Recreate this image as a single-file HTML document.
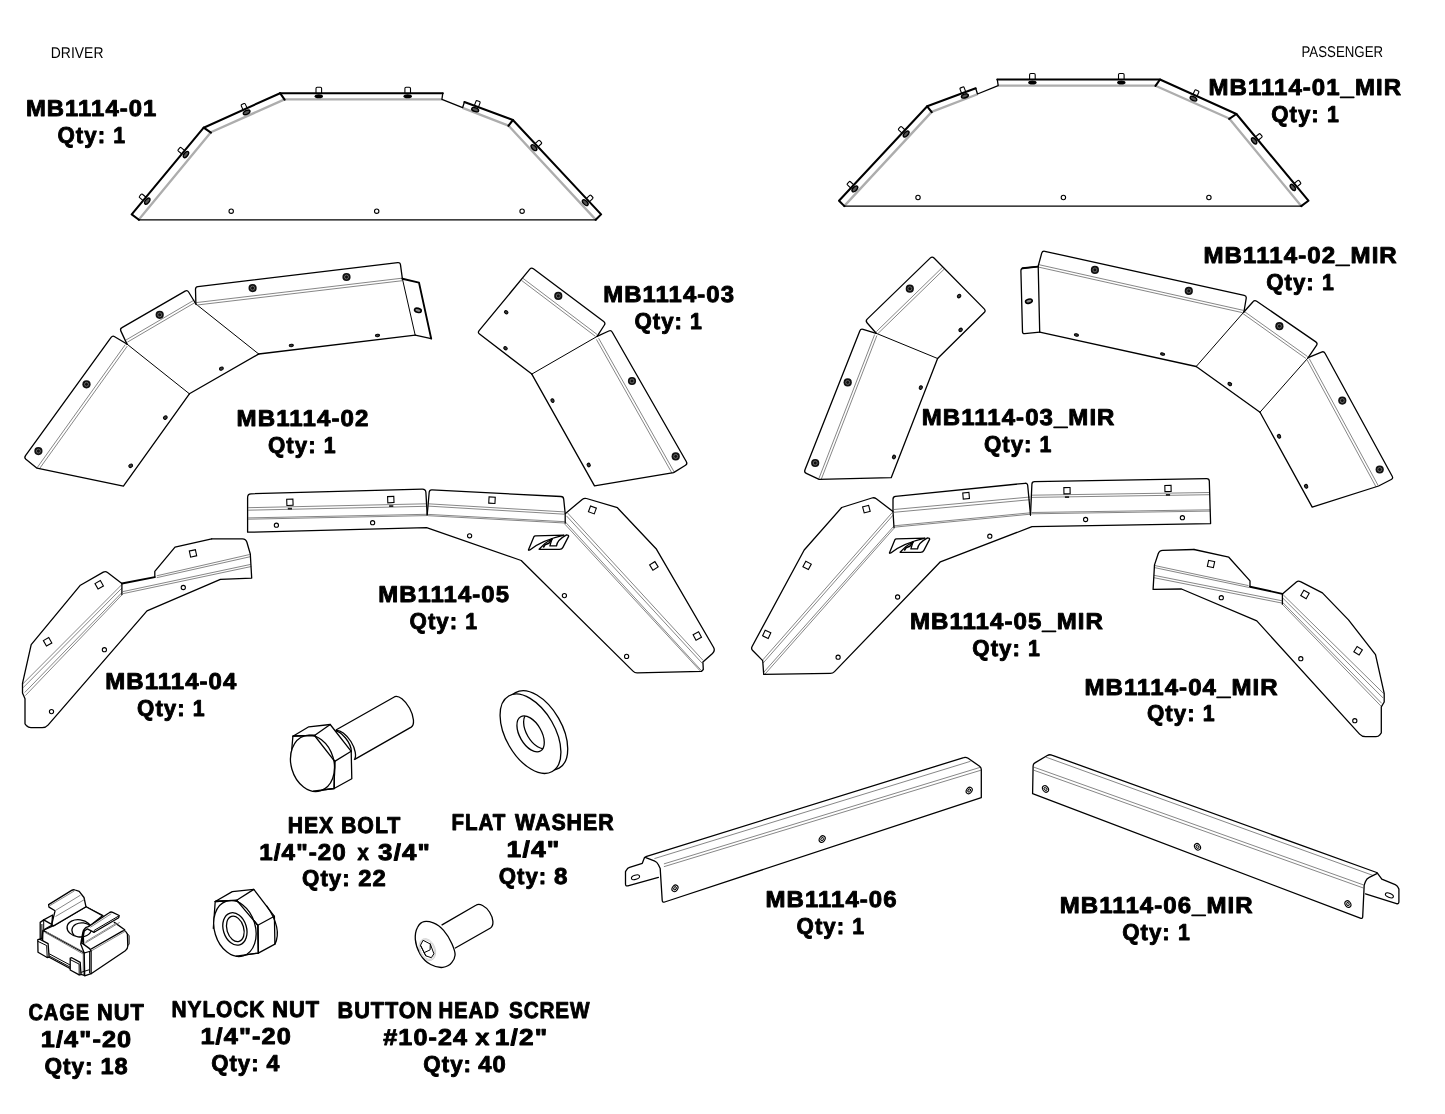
<!DOCTYPE html>
<html><head><meta charset="utf-8"><title>MB1114 parts</title>
<style>
html,body{margin:0;padding:0;background:#fff}
svg{display:block;will-change:transform}
text{font-family:"Liberation Sans",sans-serif;fill:#000;text-rendering:geometricPrecision}
.b{font-weight:bold;font-size:22.9px;stroke:#000;stroke-width:0.9px;stroke-linejoin:round;letter-spacing:1px}
.r{font-size:15.6px}
.k{fill:none;stroke:#000;stroke-width:1.3;stroke-linejoin:round;stroke-linecap:round}
.k1{stroke:#000;stroke-width:1.1;stroke-linejoin:round}
.kk{fill:none;stroke:#000;stroke-width:2.05;stroke-linejoin:round;stroke-linecap:round}
.k1n{fill:none;stroke:#000;stroke-width:1;stroke-linejoin:round;stroke-linecap:round}
.kt{fill:none;stroke:#000;stroke-width:1;stroke-linecap:round}
.g{fill:none;stroke:#808080;stroke-width:0.95}
.gl{fill:none;stroke:#bdbdbd;stroke-width:0.6}
.gw{fill:none;stroke:#adadad;stroke-width:2.3;stroke-linejoin:round}
.bf{fill:#111}
.bi{fill:none;stroke:#888;stroke-width:0.7}
.h{fill:#fff;stroke:#000;stroke-width:1.1}
.eh{fill:#3a3a3a;stroke:#000;stroke-width:1.0}
.fh{fill:#8a8a8a;stroke:#000;stroke-width:1.6}
.kh{fill:none;stroke:#000;stroke-width:1.9;stroke-linejoin:round;stroke-linecap:round}
.w{fill:#fff;stroke:#000;stroke-width:1.3;stroke-linejoin:round}
</style></head><body>
<svg width="1445" height="1114" viewBox="0 0 1445 1114">
<rect width="1445" height="1114" fill="#fff"/>
<g id="p01"><path class="gw" d="M138.9,219.6L210.9,132.2L284.6,99.4L441.9,99.4"/>
<path class="gw" d="M462.6,107.9L508.4,125.6L595.7,219.6"/>
<path class="k" d="M596.2,219.8L138.4,219.8"/>
<path class="k" d="M442.8,93.2L441.9,99.3L462.6,107.7L464.4,102"/>
<g transform="translate(318.8,93.4) rotate(0)"><path class="k1" d="M-2.8,0V-5.0Q-2.8,-6.2 -1.6,-6.2H1.6Q2.8,-6.2 2.8,-5.0V0" fill="#fff"/><ellipse cx="0" cy="2.8" rx="4.2" ry="2.0" fill="#000"/></g>
<g transform="translate(407.7,93.4) rotate(0)"><path class="k1" d="M-2.8,0V-5.0Q-2.8,-6.2 -1.6,-6.2H1.6Q2.8,-6.2 2.8,-5.0V0" fill="#fff"/><ellipse cx="0" cy="2.8" rx="4.2" ry="2.0" fill="#000"/></g>
<g transform="translate(245.2,109.2) rotate(-24.3)"><path class="k1" d="M-2.2,0V-4.6Q-2.2,-5.6 -1.2,-5.6H1.2Q2.2,-5.6 2.2,-4.6V0" fill="#fff"/><ellipse cx="0" cy="3.5" rx="3.6" ry="1.9" fill="#555" stroke="#000" stroke-width="1.4"/></g>
<g transform="translate(144.6,198.9) rotate(-50.3)"><path class="k1" d="M-2.2,0V-4.6Q-2.2,-5.6 -1.2,-5.6H1.2Q2.2,-5.6 2.2,-4.6V0" fill="#fff"/><ellipse cx="0" cy="3.5" rx="3.6" ry="1.9" fill="#555" stroke="#000" stroke-width="1.4"/></g>
<g transform="translate(183.3,152.3) rotate(-50.3)"><path class="k1" d="M-2.2,0V-4.6Q-2.2,-5.6 -1.2,-5.6H1.2Q2.2,-5.6 2.2,-4.6V0" fill="#fff"/><ellipse cx="0" cy="3.5" rx="3.6" ry="1.9" fill="#555" stroke="#000" stroke-width="1.4"/></g>
<g transform="translate(476.4,106.4) rotate(20.4)"><path class="k1" d="M-2.2,0V-4.6Q-2.2,-5.6 -1.2,-5.6H1.2Q2.2,-5.6 2.2,-4.6V0" fill="#fff"/><ellipse cx="0" cy="3.5" rx="3.6" ry="1.9" fill="#555" stroke="#000" stroke-width="1.4"/></g>
<g transform="translate(536.5,145.3) rotate(46.9)"><path class="k1" d="M-2.2,0V-4.6Q-2.2,-5.6 -1.2,-5.6H1.2Q2.2,-5.6 2.2,-4.6V0" fill="#fff"/><ellipse cx="0" cy="3.5" rx="3.6" ry="1.9" fill="#555" stroke="#000" stroke-width="1.4"/></g>
<g transform="translate(587.8,200.2) rotate(46.9)"><path class="k1" d="M-2.2,0V-4.6Q-2.2,-5.6 -1.2,-5.6H1.2Q2.2,-5.6 2.2,-4.6V0" fill="#fff"/><ellipse cx="0" cy="3.5" rx="3.6" ry="1.9" fill="#555" stroke="#000" stroke-width="1.4"/></g>
<path class="kk" d="M138.9,219.8L131.7,214.4L203.7,127.7L280.1,93.2L442.8,93.2"/>
<path class="kk" d="M464.4,102L512.9,120L601.1,214.4L595.7,219.8"/>
<path class="kk" d="M203.7,127.7L210.9,132.6M280.1,93.2L284.6,99.6M512.9,120L508.4,125.8"/>
<circle class="h" cx="231.2" cy="211.2" r="2.2"/>
<circle class="h" cx="376.7" cy="211.2" r="2.2"/>
<circle class="h" cx="522.1" cy="211.2" r="2.2"/></g>
<use href="#p01" transform="translate(1440.1,-13.7) scale(-1,1)"/>
<path class="g" d="M125.3,344.6L37.2,467.6"/><path class="g" d="M127.3,346.1L39.2,469.1"/>
<path class="k" d="M126.9,344L114.7,336.7Q112.6,335.4 111.1,337.4L25.5,455.7Q24,457.7 25.9,459.3L37,468.2L123.4,486.2L189.4,393.9"/>
<path class="kt" d="M126.9,344L189.4,393.8"/>
<circle class="bf" cx="86.5" cy="384.3" r="4.1"/><circle class="bi" cx="86.5" cy="384.3" r="2"/>
<circle class="bf" cx="38.4" cy="451.1" r="4.1"/><circle class="bi" cx="38.4" cy="451.1" r="2"/>
<ellipse class="eh" cx="165.3" cy="417.6" rx="2" ry="1.6" transform="rotate(-30 165.3 417.6)"/>
<ellipse class="eh" cx="130.7" cy="465.8" rx="2" ry="1.6" transform="rotate(-30 130.7 465.8)"/>
<path class="g" d="M127.3,342.2L195.6,302.2"/><path class="g" d="M126,340L194.3,300"/>
<path class="k" d="M127,344.1L120.9,331.1Q119.8,328.8 122,327.6L185.1,291.1Q187.3,289.9 188.6,292L195.9,304"/>
<path class="kt" d="M195.9,304L258.7,354"/>
<path class="k" d="M189.4,393.8L258.9,353.9"/>
<circle class="bf" cx="159.7" cy="314.8" r="4.1"/><circle class="bi" cx="159.7" cy="314.8" r="2"/>
<ellipse class="eh" cx="221.4" cy="368.7" rx="2" ry="1.5" transform="rotate(-20 221.4 368.7)"/>
<path class="g" d="M196.2,302.6L402,278.2"/><path class="g" d="M196.5,305.1L402.3,280.7"/>
<path class="k" d="M195.9,304L195.5,289.4Q195.4,286.9 197.9,286.6L397.7,262.7Q400.2,262.4 400.5,264.9L402.4,278.8"/>
<path class="k" d="M258.7,354L415.2,335.2"/>
<path class="kt" d="M402.4,278.8L415.2,335.2"/>
<path class="kh" d="M402.4,278.8L419,282.6L431.2,338.6"/>
<path class="k" d="M431.2,338.6L415.2,335.2"/>
<circle class="bf" cx="252.6" cy="288.1" r="4.1"/><circle class="bi" cx="252.6" cy="288.1" r="2"/>
<circle class="bf" cx="346.5" cy="277" r="4.1"/><circle class="bi" cx="346.5" cy="277" r="2"/>
<ellipse class="eh" cx="291.3" cy="345.5" rx="2.1" ry="1.2" transform="rotate(-5 291.3 345.5)"/>
<ellipse class="eh" cx="377.5" cy="335.5" rx="2.1" ry="1.2" transform="rotate(-5 377.5 335.5)"/>
<ellipse class="fh" cx="417.9" cy="310.3" rx="3.4" ry="2" transform="rotate(15 417.9 310.3)"/>
<path class="k" d="M1037.9,266.6L1023.3,268.1Q1020.8,268.4 1020.9,270.9L1022.5,331.9Q1022.6,333.9 1024.6,333.7L1039.7,332.1"/>
<path class="kh" d="M1037.9,266.6L1022.6,268.2"/>
<path class="g" d="M1038.6,264.6L1243.6,310.4"/><path class="g" d="M1038.1,267L1243.1,312.8"/>
<path class="k" d="M1039.7,332.1L1038.2,266L1041.7,253.2Q1042.4,250.8 1044.8,251.3L1244.2,295.3Q1246.6,295.8 1246.2,298.3L1243.9,312"/>
<path class="k" d="M1039.7,332.1L1196.2,366.5"/>
<path class="kt" d="M1243.9,312L1196.2,366.5"/>
<circle class="bf" cx="1094.9" cy="269.9" r="4.1"/><circle class="bi" cx="1094.9" cy="269.9" r="2"/>
<circle class="bf" cx="1188.8" cy="290.9" r="4.1"/><circle class="bi" cx="1188.8" cy="290.9" r="2"/>
<ellipse class="fh" cx="1028.9" cy="301.2" rx="3.4" ry="2" transform="rotate(-15 1028.9 301.2)"/>
<ellipse class="eh" cx="1076.4" cy="335" rx="2.1" ry="1.2" transform="rotate(10 1076.4 335)"/>
<ellipse class="eh" cx="1162.6" cy="354.1" rx="2.1" ry="1.2" transform="rotate(10 1162.6 354.1)"/>
<path class="g" d="M1244.5,311.6L1307.6,356.6"/><path class="g" d="M1243,313.6L1306.1,358.6"/>
<path class="k" d="M1243.9,312L1253,301.7Q1254.6,299.8 1256.7,301.2L1315.8,341.9Q1317.9,343.3 1316.5,345.4L1308.2,357.7"/>
<path class="kt" d="M1308.2,357.7L1260,412.2"/>
<path class="k" d="M1196.2,366.5L1260,412.2"/>
<circle class="bf" cx="1279.4" cy="326.2" r="4.1"/><circle class="bi" cx="1279.4" cy="326.2" r="2"/>
<ellipse class="eh" cx="1229.8" cy="384" rx="2" ry="1.5" transform="rotate(30 1229.8 384)"/>
<path class="g" d="M1309.2,358.6L1378.2,485.6"/><path class="g" d="M1307,359.8L1376,486.8"/>
<path class="k" d="M1308.2,357.7L1321.5,352.1Q1323.8,351.1 1325,353.3L1392.2,476.2Q1393.4,478.4 1391.2,479.5L1378.6,486L1312.2,507.1L1260,412.2"/>
<circle class="bf" cx="1342.3" cy="400.6" r="4.1"/><circle class="bi" cx="1342.3" cy="400.6" r="2"/>
<circle class="bf" cx="1379.7" cy="469.5" r="4.1"/><circle class="bi" cx="1379.7" cy="469.5" r="2"/>
<ellipse class="eh" cx="1279" cy="436.3" rx="2" ry="1.6" transform="rotate(60 1279 436.3)"/>
<ellipse class="eh" cx="1306.1" cy="486.3" rx="2" ry="1.6" transform="rotate(60 1306.1 486.3)"/>
<path class="g" d="M523,278.4L597,334.4"/><path class="g" d="M521.5,280.4L595.5,336.4"/>
<path class="k" d="M597.1,336.4L604.4,325Q605.7,322.9 603.7,321.4L533.4,268.8Q531.4,267.3 529.8,269.2L479.1,330.7Q477.5,332.6 479.5,334.1L531.8,374.1"/>
<path class="kt" d="M597.1,336.4L531.8,374.1"/>
<circle class="bf" cx="558.3" cy="295.9" r="4.1"/><circle class="bi" cx="558.3" cy="295.9" r="2"/>
<ellipse class="eh" cx="506.2" cy="312.3" rx="1.9" ry="1.5" transform="rotate(40 506.2 312.3)"/>
<ellipse class="eh" cx="505.5" cy="348.3" rx="1.9" ry="1.5" transform="rotate(40 505.5 348.3)"/>
<path class="g" d="M598.6,338.2L674.2,472"/><path class="g" d="M596.4,339.4L672,473.2"/>
<path class="k" d="M597.1,336.4L608.8,331Q611.1,330 612.3,332.2L686.4,461.8Q687.6,464 685.5,465.3L673.6,472.6L594.5,485.9L531.8,374.1"/>
<circle class="bf" cx="632" cy="381" r="4.1"/><circle class="bi" cx="632" cy="381" r="2"/>
<circle class="bf" cx="675.7" cy="456.4" r="4.1"/><circle class="bi" cx="675.7" cy="456.4" r="2"/>
<ellipse class="eh" cx="552.5" cy="400.6" rx="1.9" ry="1.5" transform="rotate(60 552.5 400.6)"/>
<ellipse class="eh" cx="588.7" cy="465" rx="1.9" ry="1.5" transform="rotate(60 588.7 465)"/>
<path class="g" d="M942.6,267.2L876.4,331.6"/><path class="g" d="M944.3,269L878.1,333.4"/>
<path class="k" d="M876.2,333.3L867,322.7Q865.4,320.8 867.2,319.1L930.4,257.9Q932.2,256.2 934,258L984.2,308.9Q986,310.7 984.2,312.5L937.6,358.5"/>
<path class="kt" d="M876.2,333.3L937.6,358.5"/>
<circle class="bf" cx="909.8" cy="288.7" r="4.1"/><circle class="bi" cx="909.8" cy="288.7" r="2"/>
<ellipse class="eh" cx="959.1" cy="296.1" rx="1.9" ry="1.5" transform="rotate(-40 959.1 296.1)"/>
<ellipse class="eh" cx="960.6" cy="329.9" rx="1.9" ry="1.5" transform="rotate(-40 960.6 329.9)"/>
<path class="g" d="M874.6,334.6L818.8,478.8"/><path class="g" d="M876.9,335.5L821.1,479.7"/>
<path class="k" d="M876.2,333.3L863.1,329.3Q860.7,328.6 859.8,330.9L804.9,470Q804,472.3 806.3,473.4L819.1,479.4L891.2,477.7L937.6,358.5"/>
<circle class="bf" cx="847.7" cy="382.4" r="4.1"/><circle class="bi" cx="847.7" cy="382.4" r="2"/>
<circle class="bf" cx="815.2" cy="463" r="4.1"/><circle class="bi" cx="815.2" cy="463" r="2"/>
<ellipse class="eh" cx="920.8" cy="387.6" rx="1.9" ry="1.5" transform="rotate(-60 920.8 387.6)"/>
<ellipse class="eh" cx="894" cy="457" rx="1.9" ry="1.5" transform="rotate(-60 894 457)"/>
<defs><g id="logo" fill="none" stroke="#000" stroke-width="1.3" stroke-linejoin="round"><path d="M528.5,549.8L534,536.6Q534.4,535.8 535.4,535.8L564,535.2C552,538 538,543.5 529.8,550Q528.2,550.6 528.5,549.8Z"/><path d="M539.1,549.3L559.5,549.3Q562,549.3 562.9,547.4L568.6,536.4Q568.9,534.9 566.5,534.9C560,538.5 556.8,542.5 556.5,545.9L549.9,545.9L552,538.8C547,541.5 542,546 539.1,549.3Z"/><path d="M552.5,538.5L548.8,543.2L545,544.8L543.3,547.5" stroke-width="1.6"/></g></defs>
<path class="g" d="M248.2,507.7L426.6,503.8"/><path class="g" d="M248.2,510.2L426.6,506.3"/><path class="g" d="M248.2,517.9L426.8,514.3"/><path class="g" d="M248.2,519.2L426.8,515.6"/><path class="g" d="M428.2,503.8L564.4,511.9"/><path class="g" d="M428.2,506.1L564.4,514.2"/><path class="g" d="M428,514.4L564.8,521.7"/><path class="g" d="M428,515.7L564.8,523"/><path class="g" d="M567.6,513L702.9,660.2"/><path class="g" d="M566.5,515.9L702.3,663.4"/><path class="g" d="M565.4,522L701.5,670.7"/><path class="g" d="M564.8,524.1L700.2,670.9"/>
<path class="k" d="M427.2,514.9L425.9,492.5Q425.7,489 422.2,489.1L251.1,493.8Q247.6,493.9 247.6,497.4L247.6,532.2L426.6,527.7L521.2,560.5L633,671.1Q634.8,672.9 637.3,672.8L701.6,671.3L703.3,669.5L702.9,661.9L712.5,653.4Q715.5,650.7 713.5,647.2L656.1,548.7L617.4,507.7L586.5,498.5Q584.1,497.8 582.2,499.4L565.2,513.7L565.2,523.2"/>
<path class="k" d="M427.2,514.9L429.2,492.3Q429.4,489.8 431.9,489.9L560.9,496.5Q563.4,496.6 563.7,499.1L565.2,513.7"/>
<rect class="h" x="286.8" y="499.2" width="6.2" height="6.2" transform="rotate(-2 289.9 502.3)"/>
<rect class="h" x="387.7" y="496.5" width="6.2" height="6.2" transform="rotate(-2 390.8 499.6)"/>
<rect class="h" x="488.9" y="497.1" width="6.2" height="6.2" transform="rotate(3 492 500.2)"/>
<rect class="h" x="589.3" y="506.8" width="6.2" height="6.2" transform="rotate(20 592.4 509.9)"/>
<rect class="h" x="650.8" y="562.8" width="6.2" height="6.2" transform="rotate(-32 653.9 565.9)"/>
<rect class="h" x="694.2" y="632.9" width="6.2" height="6.2" transform="rotate(-28 697.3 636)"/>
<rect fill="#222" x="287.8" y="507.8" width="4.2" height="1.8"/>
<rect fill="#222" x="389.1" y="505.2" width="4.2" height="1.8"/>
<circle class="h" cx="276.4" cy="525.2" r="2.1"/>
<circle class="h" cx="372.6" cy="522.7" r="2.1"/>
<circle class="h" cx="469.6" cy="535.8" r="2.1"/>
<circle class="h" cx="564.4" cy="595.6" r="2.1"/>
<circle class="h" cx="626.6" cy="656.4" r="2.1"/>
<use href="#logo"/>
<path class="g" d="M892.4,512.4L762.9,659.8"/><path class="g" d="M893,515.2L763.2,663"/><path class="g" d="M893.8,526.2L763.8,672.2"/><path class="g" d="M894,528.3L764.9,674.2"/><path class="g" d="M894,509.5L1030.2,497"/><path class="g" d="M894,512.3L1030.2,499.7"/><path class="g" d="M894,525.8L1030.4,512.8"/><path class="g" d="M894,527.2L1030.4,514.2"/><path class="g" d="M1032,495.2L1210,492.5"/><path class="g" d="M1032,497.4L1210,494.7"/><path class="g" d="M1031.6,512.5L1210.2,509.8"/><path class="g" d="M1031.6,513.8L1210.2,511.1"/>
<path class="k" d="M894,527.7L893,511.5L876.3,498.8Q874.3,497.3 871.9,498L841.7,507.5L804.2,550L752.1,646.5Q750.9,648.7 752.7,650.5L762.7,660.6L763.7,674.4L830.3,673.4Q832.8,673.4 834.5,671.6L940.4,561.8L1032,526.7L1210.6,523.6L1209.3,481.1Q1209.2,478.6 1206.7,478.6L1034.5,481.7Q1032,481.7 1031.9,484.2L1030.5,515"/>
<path class="k" d="M893,511.5L893,499.2Q893,496.7 895.5,496.4L1025,483.3Q1027.5,483 1027.7,485.5L1030.5,515"/>
<rect class="h" x="863.3" y="506" width="6.2" height="6.2" transform="rotate(-15 866.4 509.1)"/>
<rect class="h" x="804" y="562.3" width="6.2" height="6.2" transform="rotate(28 807.1 565.4)"/>
<rect class="h" x="763.6" y="631.2" width="6.2" height="6.2" transform="rotate(25 766.7 634.3)"/>
<rect class="h" x="963" y="492.6" width="6.2" height="6.2" transform="rotate(-5 966.1 495.7)"/>
<rect class="h" x="1063.9" y="487.6" width="6.2" height="6.2" transform="rotate(-1 1067 490.7)"/>
<rect class="h" x="1164.9" y="485.4" width="6.2" height="6.2" transform="rotate(-1 1168 488.5)"/>
<rect fill="#222" x="1064.9" y="496.2" width="4.2" height="1.8"/>
<rect fill="#222" x="1165.9" y="494" width="4.2" height="1.8"/>
<circle class="h" cx="1085.6" cy="519.5" r="2.1"/>
<circle class="h" cx="1182.4" cy="517.7" r="2.1"/>
<circle class="h" cx="989.8" cy="536.2" r="2.1"/>
<circle class="h" cx="897.6" cy="597" r="2.1"/>
<circle class="h" cx="838.1" cy="657.2" r="2.1"/>
<use href="#logo" transform="translate(361,3)"/>
<path class="g" d="M156.7,575.8L249.7,554.5"/><path class="g" d="M156.7,577.7L250.3,556.7"/><path class="g" d="M122.9,591.6L250.7,564.4"/><path class="g" d="M122.9,593.7L251.3,566.5"/><path class="g" d="M121.6,584.8L22.7,684"/><path class="g" d="M121.9,588.1L23.1,687.7"/><path class="g" d="M122.1,592.4L24.7,692.5"/><path class="g" d="M122.3,594.5L25.4,695.6"/>
<path class="k" d="M211.7,538.9L242.4,538.9Q245.9,538.9 246.9,542.3L250.3,554L251.7,578.1L220.4,579.4L147,610.9L48,725.1Q45.7,727.7 42.2,727.7L30.9,727.7Q28.3,727.7 26.6,725.8L25,723.8L25,698.7L22.5,692.9L22.5,683.3L31.2,644.7L80.4,585.2L103.3,572.1Q105.5,570.9 107.5,572.4L121.9,583.5L121.9,594.5"/>
<path class="k" d="M211.7,538.9L175,547.2L154.8,571.3L154.8,577.1"/>
<path class="kh" d="M121.9,583.5L154.8,577.1"/>
<rect class="h" x="96.1" y="581.7" width="6.2" height="6.2" transform="rotate(-30 99.2 584.8)"/>
<rect class="h" x="44.5" y="638.7" width="6.2" height="6.2" transform="rotate(-30 47.6 641.8)"/>
<rect class="h" x="189.9" y="550.3" width="6.2" height="6.2" transform="rotate(-12 193 553.4)"/>
<circle class="h" cx="183.3" cy="587.5" r="2.1"/>
<circle class="h" cx="104.4" cy="649.7" r="2.1"/>
<circle class="h" cx="51.5" cy="711.6" r="2.1"/>
<path class="g" d="M1154.7,565.5L1248.5,585.6"/><path class="g" d="M1154.5,567.6L1249.2,587.5"/><path class="g" d="M1153.9,575.3L1282.1,600.8"/><path class="g" d="M1153.9,577.7L1282.1,603.1"/><path class="g" d="M1283.2,594.8L1383.8,693.7"/><path class="g" d="M1283,598.3L1383,697.9"/><path class="g" d="M1282.8,602.6L1381.7,703.3"/><path class="g" d="M1282.6,604.5L1380.9,706"/>
<path class="k" d="M1194,549.5L1162.8,550.3Q1159.3,550.4 1158.2,553.7L1154.5,564.9L1153.1,589.4L1181.5,589L1256.8,620.9L1359.6,734.1Q1362,736.7 1365.5,736.7L1376,736.7Q1378.4,736.7 1379.8,734.8L1381.3,732.8L1381.3,706.8L1384.2,702L1384.2,693.3L1375.5,654.7L1348.5,619.9L1322.4,592.9L1300.5,581.6Q1298.3,580.4 1296.4,582L1282.4,593.9L1282.4,604.2"/>
<path class="k" d="M1194,549.5L1228.8,557.2L1250,580.9L1250,586.7"/>
<path class="kh" d="M1282.4,593.9L1250,586.7"/>
<rect class="h" x="1207.9" y="560.9" width="6.2" height="6.2" transform="rotate(12 1211 564)"/>
<rect class="h" x="1301.9" y="591.3" width="6.2" height="6.2" transform="rotate(30 1305 594.4)"/>
<rect class="h" x="1355" y="647.7" width="6.2" height="6.2" transform="rotate(32 1358.1 650.8)"/>
<circle class="h" cx="1221.3" cy="597.7" r="2.1"/>
<circle class="h" cx="1300.8" cy="658.7" r="2.1"/>
<circle class="h" cx="1354.8" cy="720.7" r="2.1"/>
<path class="g" d="M654.4,858.6L970.5,761.3"/><path class="g" d="M663.9,863.9L981,767.1"/><path class="g" d="M663.9,866.7L981,770.2"/>
<path class="k" d="M644.5,857.5L642.3,863.3L629.6,867.4Q627.6,868.1 626.6,869.9L625.5,871.7L625.5,884Q625.5,886.5 627.9,885.8L658.4,877.3"/>
<ellipse class="h" cx="635.5" cy="877.3" rx="4.2" ry="2.1" transform="rotate(-18 635.5 877.3)"/>
<path class="k" d="M981.3,797.6L664.7,902Q662.3,902.8 662.2,900.3L660.2,868.6L658.4,864.7Q657.1,862 654.3,860.9L645.8,857.6Q644.5,857 645.9,856.6L963.7,757.6Q966,756.8 968.1,758.3L979.6,766.2Q981.3,767.4 981.3,769.4L981.3,797.6"/>
<ellipse cx="675" cy="888.3" rx="3.5" ry="2.7" fill="#fff" stroke="#000" stroke-width="1.1" transform="rotate(-55 675 888.3)"/><ellipse cx="675" cy="888.3" rx="1.8" ry="1.3" fill="#bbb" stroke="#000" stroke-width="0.9" transform="rotate(-55 675 888.3)"/>
<ellipse cx="822.2" cy="839.1" rx="3.5" ry="2.7" fill="#fff" stroke="#000" stroke-width="1.1" transform="rotate(-55 822.2 839.1)"/><ellipse cx="822.2" cy="839.1" rx="1.8" ry="1.3" fill="#bbb" stroke="#000" stroke-width="0.9" transform="rotate(-55 822.2 839.1)"/>
<ellipse cx="969.2" cy="790.5" rx="3.5" ry="2.7" fill="#fff" stroke="#000" stroke-width="1.1" transform="rotate(-55 969.2 790.5)"/><ellipse cx="969.2" cy="790.5" rx="1.8" ry="1.3" fill="#bbb" stroke="#000" stroke-width="0.9" transform="rotate(-55 969.2 790.5)"/>
<path class="g" d="M1045.8,757.1L1372.9,875.4"/><path class="g" d="M1033.7,767.1L1363.4,884.9"/><path class="g" d="M1033.7,770.2L1363.4,888"/>
<path class="k" d="M1377.6,873.3L1381.8,879.1L1395.2,884.6Q1397.1,885.4 1398,887.3L1398.9,889.1L1398.9,901.8Q1398.9,904.3 1396.5,903.6L1365.5,893.8"/>
<ellipse class="h" cx="1389.4" cy="895.4" rx="4.2" ry="2.1" transform="rotate(22 1389.4 895.4)"/>
<path class="k" d="M1032.6,793.6L1360.3,918.2Q1362.6,919.1 1362.7,916.6L1364.2,884.9L1365.5,881.4Q1366.6,878.6 1369.3,877.3L1376.8,873.7Q1378.1,873.1 1376.7,872.5L1051.8,755.1Q1049.5,754.2 1047.3,755.5L1034.9,762.9Q1033.1,763.9 1033.1,765.9L1032.6,793.6"/>
<ellipse cx="1045.5" cy="788.9" rx="3.5" ry="2.7" fill="#fff" stroke="#000" stroke-width="1.1" transform="rotate(55 1045.5 788.9)"/><ellipse cx="1045.5" cy="788.9" rx="1.8" ry="1.3" fill="#bbb" stroke="#000" stroke-width="0.9" transform="rotate(55 1045.5 788.9)"/>
<ellipse cx="1197.5" cy="846.8" rx="3.5" ry="2.7" fill="#fff" stroke="#000" stroke-width="1.1" transform="rotate(55 1197.5 846.8)"/><ellipse cx="1197.5" cy="846.8" rx="1.8" ry="1.3" fill="#bbb" stroke="#000" stroke-width="0.9" transform="rotate(55 1197.5 846.8)"/>
<ellipse cx="1347.9" cy="904.1" rx="3.5" ry="2.7" fill="#fff" stroke="#000" stroke-width="1.1" transform="rotate(55 1347.9 904.1)"/><ellipse cx="1347.9" cy="904.1" rx="1.8" ry="1.3" fill="#bbb" stroke="#000" stroke-width="0.9" transform="rotate(55 1347.9 904.1)"/>
<g><path class="w" d="M335.9,730L394.7,696.7A17.3 7.8 61.5 0 1 411.2,727.1L354.7,759.4"/><path class="w" d="M335.9,730.4 A17.6 8.4 58 0 1 354.2,759.8"/><path class="k" d="M334.5,730.8 A15 7 55 0 1 351.4,751.8"/><path class="w" d="M292.9,736.2L308.8,726.8L330.2,724.5L351.2,751.3L351.8,778.8L334.1,788.5L334.7,761.4L314.5,735.5Z"/><path class="k" d="M314.5,735.5L330.2,724.5"/><path class="k" d="M334.7,761.4L351.2,751.3"/><path class="w" d="M290.7,761.2L292.9,736.2L314.5,735.5L334.7,761.4L334.1,788.5L313.3,791.2"/><ellipse class="w" cx="312.5" cy="763.3" rx="21.4" ry="28.6" transform="rotate(-16 312.5 763.3)"/><path class="k" d="M292.9,736.2L314.5,735.5L334.7,761.4L334.1,788.5L313.3,791.2"/></g>
<g><ellipse class="w" cx="537.3" cy="730.4" rx="43.6" ry="24.5" transform="rotate(60 537.3 730.4)"/><ellipse class="w" cx="530.5" cy="733.7" rx="43.6" ry="24.5" transform="rotate(60 530.5 733.7)"/><clipPath id="wh"><ellipse cx="530.6" cy="733.9" rx="19.8" ry="10.9" transform="rotate(60 530.6 733.9)"/></clipPath><ellipse class="w" cx="530.6" cy="733.9" rx="19.8" ry="10.9" transform="rotate(60 530.6 733.9)"/><g clip-path="url(#wh)"><ellipse class="k" cx="537.3" cy="730.8" rx="19.8" ry="10.9" transform="rotate(60 537.3 730.8)"/></g></g>
<g><path fill="#fff" d="M42.7,930.3L84.2,953L124.7,929.8L127.8,949.1L91.1,973.7L83.2,976.7L39.7,953L40.2,922.4L52.6,915L86.2,906.6L102.9,915.5Z"/><path class="k" d="M86,906.8L102.9,915.7"/><path class="k" d="M114.3,922.4L124.7,929.8"/><path class="w" d="M42.9,930.3L53.6,925.6L86,906.8L102.5,915.7L89.1,926.5L85.2,928.8L83.2,934.2L84.2,953Z"/><ellipse class="w" cx="79.2" cy="928.3" rx="12.2" ry="8.6" transform="rotate(8 79.2 928.3)"/><clipPath id="ch"><ellipse cx="79.2" cy="928.3" rx="12.2" ry="8.6" transform="rotate(8 79.2 928.3)"/></clipPath><g clip-path="url(#ch)"><ellipse class="k" cx="82.4" cy="930.9" rx="10.5" ry="8" transform="rotate(8 82.4 930.9)"/></g><path class="w" d="M42.9,930.5L84.2,953L84.2,975.5L80.7,974.2L49.6,957.5L42.2,953.5Z"/><path class="g" d="M44.7,932.3L83.2,954"/><path class="g" d="M45.9,931.5L84.2,952.2"/><path class="g" d="M83.2,954L83.2,973.7"/><path class="w" d="M40.2,922.4L43.7,919.9L52.6,924.9L42.9,930.3L41.9,938.2L40.2,939.2Z"/><path class="k1n" d="M41.9,924.4L41.9,938.2"/><path class="k1n" d="M43.7,919.9L43.7,928.8"/><path class="w" d="M84.2,953L122.4,931.1Q124.7,929.8 126.1,932L127.4,934.2L127.8,946.1Q127.8,949.1 125.3,950.7L91.1,973.7L84.7,975.9Z"/><path class="k" d="M91.1,951L91.1,973.7"/><path class="k1n" d="M89.6,948.6L89.6,972.8"/><path class="g" d="M85.2,943.1L119.7,922.4"/><path class="g" d="M85.7,941.7L116.3,923.2"/><path class="g" d="M91.1,951L125.2,931.3"/><path class="k1n" d="M127.6,934.2L129.1,935.4L129.1,944.1L127.8,945.6"/><path class="w" d="M48.6,904.6L71.6,890.4Q73.3,889.3 75.2,890L79.2,891.3L84,897.5L86,906.8L53.6,925.9L51.8,924.4L55.1,910.7L49,907.1Z"/><path class="g" d="M55.1,910.7L80.4,895.2"/><path class="g" d="M49.6,905.8L74.5,890.8"/><path class="g" d="M55.5,916.5L84.2,899.7"/><path class="k" d="M43.7,919.9L52.6,915L51.8,924.4"/><path class="w" d="M89.1,926.3L109.2,912.7Q110.8,911.5 112.7,912.4L119.2,915.5L118.7,917.7L94.1,932.3L87.3,928.8L84.2,931.3L82,943.1L89.6,948.6L91.1,951L84.2,953L80.7,944.1L82.8,932.4Q83.2,930.3 84.7,928.8L86.2,927.3Z"/><path class="g" d="M90.3,927.3L111.3,913.7"/><path class="k1n" d="M94.1,932.3L94.3,930.3L118.7,916"/><path class="w" d="M37.8,939.7L39.7,939.2L48.1,943.6L49.1,957L47.2,957.5L38,952.2Z"/><path class="k1n" d="M38,941.4L46.7,945.6L47.2,957.5"/><path class="w" d="M70.2,958.1L71.8,957.7L80.2,962.4L81,974.7L79.2,974.9L70.2,970Z"/><path class="k1n" d="M70.4,959.7L79.1,964.1L79.2,974.9"/><path class="k1n" d="M49.6,954L69.9,964.9"/><path class="k1n" d="M49.6,956.2L69.9,967"/><path class="k1n" d="M81.2,972.3L89.1,969.8"/></g>
<g><path class="w" d="M215.2,901.5L232.3,891.6L253.8,889.4L274.4,916.3L274.9,944.1L258.3,953.1L257.8,925.3L236.7,900.3Z"/><path class="k" d="M236.7,900.3L253.8,889.4"/><path class="k" d="M257.8,925.3L274.4,916.3"/><path class="k" d="M266.8,906 Q282.5,928.9 274.9,944.1"/><path class="w" d="M213.3,928.9L215.2,901.5L236.7,900.3L257.8,925.3L258.3,953.1L236.3,956.2"/><ellipse class="w" cx="234.9" cy="928.5" rx="20.4" ry="28.6" transform="rotate(-17 234.9 928.5)"/><path class="k" d="M215.2,901.5L236.7,900.3L257.8,925.3L258.3,953.1L236.3,956.2"/><ellipse class="k" cx="234.9" cy="928.9" rx="11.6" ry="16.6" transform="rotate(-17 234.9 928.9)"/><ellipse class="k" cx="235.3" cy="928.9" rx="8.4" ry="13" transform="rotate(-17 235.3 928.9)"/></g>
<g><path class="w" d="M441.6,925.1L475.9,905.3A12.8 7.4 58 0 1 490.5,928L454.9,948.2"/><path class="w" d="M424,921.6Q420.2,922.3 417.6,927.2Q414.9,932 415.3,939.3Q415.8,946.6 420,953.8Q424.2,961.1 430.7,964.5Q437.2,968 442.8,967.4Q448.5,966.7 451.7,962.7Q454.9,958.7 455.1,955Q455.3,951.4 451.9,943.7Q448.5,936 443.6,930.4Q438.8,924.7 433.3,922.8Q427.9,920.9 424,921.6Z"/><ellipse class="gl" cx="427.3" cy="949.6" rx="7.8" ry="11.4" transform="rotate(-22 427.3 949.6)"/><ellipse class="gl" cx="427.3" cy="949.6" rx="6.8" ry="10.2" transform="rotate(-22 427.3 949.6)"/><path class="k1n" d="M423.4,940.5L430.3,944L433.9,953.8L431.3,957.7L425.7,955.8L420.6,945.7Z"/><path class="k1n" d="M420.8,945.7L424.2,952.6L425.9,955.8"/><path class="k1n" d="M424.2,952.6L430.1,949.9L430.3,944"/></g>
<text class="r" transform="translate(50.8,58) scale(0.8939,1)">DRIVER</text>
<text class="r" transform="translate(1301.5,57) scale(0.8505,1)">PASSENGER</text>
<text class="b" transform="translate(25.9,116) scale(1.0427,1)">MB1114-01</text>
<text class="b" transform="translate(57.5,143) scale(0.9750,1)">Qty:</text>
<text class="b" transform="translate(113.2,143) scale(0.9315,1)">1</text>
<text class="b" transform="translate(1208.5,95) scale(1.0478,1)">MB1114-01_MIR</text>
<text class="b" transform="translate(1271.2,122) scale(0.9750,1)">Qty:</text>
<text class="b" transform="translate(1326.9,122) scale(0.9315,1)">1</text>
<text class="b" transform="translate(1203.5,263) scale(1.0516,1)">MB1114-02_MIR</text>
<text class="b" transform="translate(1266.2,290) scale(0.9750,1)">Qty:</text>
<text class="b" transform="translate(1321.9,290) scale(0.9315,1)">1</text>
<text class="b" transform="translate(603.3,302) scale(1.0443,1)">MB1114-03</text>
<text class="b" transform="translate(634.4,329) scale(0.9750,1)">Qty:</text>
<text class="b" transform="translate(690.1,329) scale(0.9315,1)">1</text>
<text class="b" transform="translate(236.6,426) scale(1.0532,1)">MB1114-02</text>
<text class="b" transform="translate(268,453) scale(0.9750,1)">Qty:</text>
<text class="b" transform="translate(323.7,453) scale(0.9315,1)">1</text>
<text class="b" transform="translate(921.7,425) scale(1.0488,1)">MB1114-03_MIR</text>
<text class="b" transform="translate(983.9,452) scale(0.9750,1)">Qty:</text>
<text class="b" transform="translate(1039.6,452) scale(0.9315,1)">1</text>
<text class="b" transform="translate(378.3,602) scale(1.0444,1)">MB1114-05</text>
<text class="b" transform="translate(409.6,629) scale(0.9750,1)">Qty:</text>
<text class="b" transform="translate(465.3,629) scale(0.9315,1)">1</text>
<text class="b" transform="translate(909.9,629) scale(1.0505,1)">MB1114-05_MIR</text>
<text class="b" transform="translate(972.3,656) scale(0.9750,1)">Qty:</text>
<text class="b" transform="translate(1028,656) scale(0.9315,1)">1</text>
<text class="b" transform="translate(105.3,689) scale(1.0474,1)">MB1114-04</text>
<text class="b" transform="translate(137.1,716) scale(0.9750,1)">Qty:</text>
<text class="b" transform="translate(192.8,716) scale(0.9315,1)">1</text>
<text class="b" transform="translate(1084.5,695) scale(1.0510,1)">MB1114-04_MIR</text>
<text class="b" transform="translate(1147,721) scale(0.9750,1)">Qty:</text>
<text class="b" transform="translate(1202.7,721) scale(0.9315,1)">1</text>
<text class="b" transform="translate(287.8,833) scale(0.9257,1)">HEX</text>
<text class="b" transform="translate(341,833) scale(0.9331,1)">BOLT</text>
<text class="b" transform="translate(259.3,860) scale(1.0580,1)">1/4&quot;-20</text>
<text class="b" transform="translate(357.5,860) scale(0.8849,1)">x</text>
<text class="b" transform="translate(378.1,860) scale(1.1347,1)">3/4&quot;</text>
<text class="b" transform="translate(302.1,886) scale(0.9750,1)">Qty:</text>
<text class="b" transform="translate(358.2,886) scale(1.0392,1)">22</text>
<text class="b" transform="translate(451.5,830) scale(0.8987,1)">FLAT</text>
<text class="b" transform="translate(515.1,830) scale(0.9337,1)">WASHER</text>
<text class="b" transform="translate(506.6,857) scale(1.1539,1)">1/4&quot;</text>
<text class="b" transform="translate(498.7,884) scale(0.9729,1)">Qty:</text>
<text class="b" transform="translate(554.1,884) scale(1.0543,1)">8</text>
<text class="b" transform="translate(765.5,907) scale(1.0475,1)">MB1114-06</text>
<text class="b" transform="translate(796.6,934) scale(0.9750,1)">Qty:</text>
<text class="b" transform="translate(852.3,934) scale(0.9315,1)">1</text>
<text class="b" transform="translate(1059.8,913) scale(1.0494,1)">MB1114-06_MIR</text>
<text class="b" transform="translate(1122.2,940) scale(0.9750,1)">Qty:</text>
<text class="b" transform="translate(1177.9,940) scale(0.9315,1)">1</text>
<text class="b" transform="translate(28.5,1020) scale(0.8765,1)">CAGE</text>
<text class="b" transform="translate(97.1,1020) scale(0.9519,1)">NUT</text>
<text class="b" transform="translate(40.8,1047) scale(1.1053,1)">1/4&quot;-20</text>
<text class="b" transform="translate(44.4,1074) scale(0.9879,1)">Qty:</text>
<text class="b" transform="translate(100.4,1074) scale(1.0294,1)">18</text>
<text class="b" transform="translate(171.5,1017) scale(0.9141,1)">NYLOCK</text>
<text class="b" transform="translate(272.3,1017) scale(0.9540,1)">NUT</text>
<text class="b" transform="translate(200.4,1044) scale(1.1065,1)">1/4&quot;-20</text>
<text class="b" transform="translate(211.2,1071) scale(0.9707,1)">Qty:</text>
<text class="b" transform="translate(266.4,1071) scale(1.0095,1)">4</text>
<text class="b" transform="translate(337.6,1018) scale(0.9464,1)">BUTTON</text>
<text class="b" transform="translate(438.4,1018) scale(0.8911,1)">HEAD</text>
<text class="b" transform="translate(508.9,1018) scale(0.9053,1)">SCREW</text>
<text class="b" transform="translate(383.2,1045) scale(1.0990,1)">#10-24</text>
<text class="b" transform="translate(475.5,1045) scale(1.0874,1)">x</text>
<text class="b" transform="translate(494.8,1045) scale(1.1448,1)">1/2&quot;</text>
<text class="b" transform="translate(423.3,1072) scale(0.9793,1)">Qty:</text>
<text class="b" transform="translate(478.2,1072) scale(1.0381,1)">40</text>
</svg>
</body></html>
